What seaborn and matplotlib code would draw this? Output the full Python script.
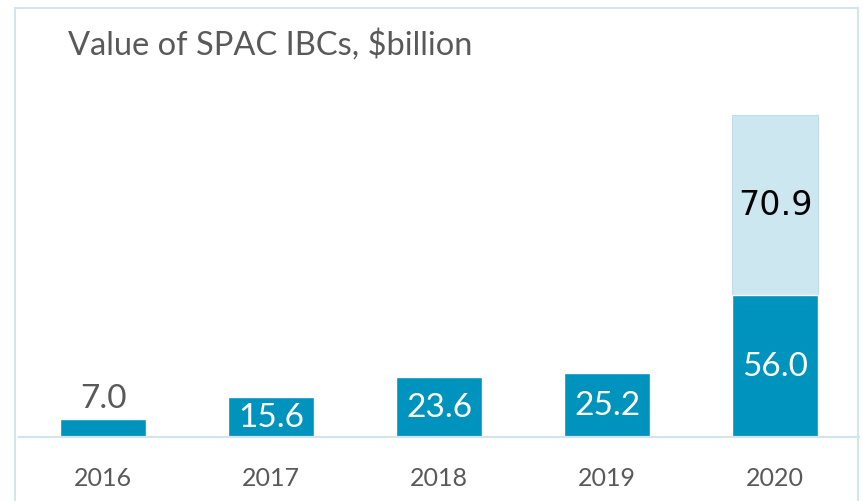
"""Value of SPAC IBCs bar chart (2016-2020), stacked for 2020."""

import matplotlib
matplotlib.use("Agg")
import matplotlib.pyplot as plt
from matplotlib.patches import Rectangle
import numpy as np
import seaborn as sns

years = ["2016", "2017", "2018", "2019", "2020"]
base_values = [7.0, 15.6, 23.6, 25.2, 56.0]
extra_values = [0.0, 0.0, 0.0, 0.0, 70.9]
title = "Value of SPAC IBCs, $billion"

DARK = "#0093BD"
LIGHT = "#CDE7F0"
FRAME = "#D2E5EE"
GREY = "#595959"

sns.set_theme(style="white")
plt.rcParams["font.family"] = ["Lato", "DejaVu Sans"]

W, H = 863, 502
fig = plt.figure(figsize=(W / 100, H / 100), dpi=100)
ax = fig.add_axes([19 / W, 1 - 438 / H, 840 / W, 378 / H])

totals = np.array(base_values) + np.array(extra_values)

# light stacked part drawn as full total behind the dark base bar
sns.barplot(x=years, y=totals, color=LIGHT, width=0.51, saturation=1,
            edgecolor="#BFDDE8", linewidth=0.8, ax=ax)
sns.barplot(x=years, y=base_values, color=DARK, width=0.51, saturation=1,
            ax=ax)

ax.set_ylim(0, 378 / 2.54)
ax.set_xlim(-0.5, 4.5)
ax.set_yticks([])
ax.set_ylabel("")
for side in ["top", "right", "left"]:
    ax.spines[side].set_visible(False)
ax.spines["bottom"].set_color(FRAME)
ax.spines["bottom"].set_linewidth(1.6)
ax.tick_params(axis="x", length=0, pad=21, labelsize=18, labelcolor=GREY)

# value labels
for i, (b, e) in enumerate(zip(base_values, extra_values)):
    if b < 10:
        ax.text(i, b + 2.5, f"{b:.1f}", ha="center", va="bottom",
                fontsize=24, color=GREY)
    else:
        ax.text(i, b / 2, f"{b:.1f}", ha="center", va="center",
                fontsize=24, color="white")
    if e > 0:
        ax.text(i, b + e / 2, f"{e:.1f}", ha="center", va="center",
                fontsize=24, color="black", family="DejaVu Sans")

fig.text(68 / W, 1 - 55 / H, title, ha="left", va="baseline",
         fontsize=23.5, color=GREY)

# light frame around the chart
fig.patches.append(Rectangle((15 / W, -0.1), 843 / W, 1.1 - 9 / H,
                             transform=fig.transFigure, fill=False,
                             edgecolor=FRAME, linewidth=1.5))

fig.savefig("out.png", dpi=100)
